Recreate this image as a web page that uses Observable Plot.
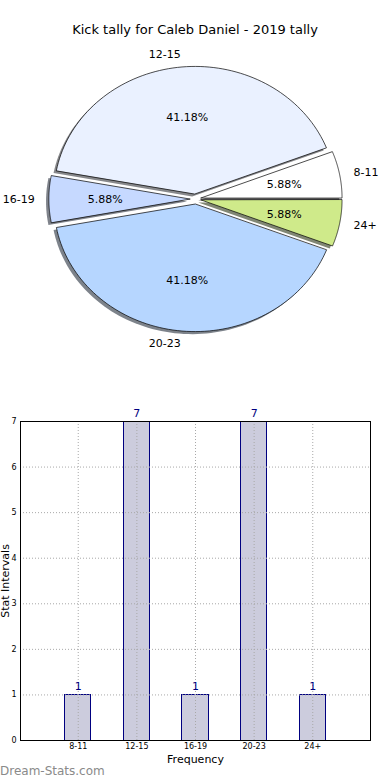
<!DOCTYPE html>
<html>
<head>
<meta charset="utf-8">
<script src="https://cdn.jsdelivr.net/npm/d3@7"></script>
<script src="https://cdn.jsdelivr.net/npm/@observablehq/plot@0.6"></script>
<style>
  html, body { margin: 0; padding: 0; background: #fff; }
  #root { position: relative; width: 390px; height: 780px; overflow: hidden; font-family: "DejaVu Sans", sans-serif; }
  #title { position: absolute; left: 0; top: 21px; width: 390px; text-align: center; font-size: 13px; line-height: 18px; color: #000; }
  #pie { position: absolute; left: 0; top: 0; }
  #bar { position: absolute; left: 0; top: 400px; }
  #wm { position: absolute; left: 0; top: 763px; font-size: 12px; color: #8a8a8a; line-height: 16px; }
</style>
</head>
<body>
<div id="root">
  <div id="pie"></div>
  <div id="title">Kick tally for Caleb Daniel - 2019 tally</div>
  <div id="bar"></div>
  <div id="wm">Dream-Stats.com</div>
</div>
<script>
// ---- data ----
const pieLabels = ["8-11", "12-15", "16-19", "20-23", "24+"];
const pieValues = [1, 7, 1, 7, 1];
const pieColors = ["#ffffff", "#eaf1ff", "#c6d9ff", "#b6d6ff", "#cfea8a"];

const barLabels = ["8-11", "12-15", "16-19", "20-23", "24+"];
const barValues = [1, 7, 1, 7, 1];
const yTicks = [0, 1, 2, 3, 4, 5, 6, 7];

// ---- pie ----
const explode = 0.04;
const total = d3.sum(pieValues);
const arcs = d3.pie().sort(null).startAngle(Math.PI / 2).endAngle(Math.PI / 2 - 2 * Math.PI)(pieValues);

const slices = arcs.map((a, i) => {
  const mid = (a.startAngle + a.endAngle) / 2;
  const ox = explode * Math.sin(mid), oy = explode * Math.cos(mid);
  const pts = [{x: ox, y: oy}];
  const n = 80;
  for (let k = 0; k <= n; k++) {
    const t = a.startAngle + (a.endAngle - a.startAngle) * k / n;
    pts.push({x: ox + Math.sin(t), y: oy + Math.cos(t)});
  }
  const c = d3.rgb(pieColors[i]);
  const shadowColor = d3.rgb(c.r * 0.3, c.g * 0.3, c.b * 0.3).formatHex();
  return {
    label: pieLabels[i],
    value: pieValues[i],
    color: pieColors[i],
    shadowColor,
    pts,
    shadow: pts.map(p => ({x: p.x - 0.02, y: p.y - 0.02})),
    lx: ox + 1.1 * Math.sin(mid), ly: oy + 1.1 * Math.cos(mid),
    px: ox + 0.6 * Math.sin(mid), py: oy + 0.6 * Math.cos(mid),
    pct: d3.format(".2f")(pieValues[i] / total * 100) + "%"
  };
});

const pieMarks = [];
for (const s of slices) {
  pieMarks.push(Plot.line(s.shadow, {x: "x", y: "y", curve: "linear-closed", fill: s.shadowColor, fillOpacity: 0.65, stroke: "none"}));
  pieMarks.push(Plot.line(s.pts, {x: "x", y: "y", curve: "linear-closed", fill: s.color, stroke: "#000", strokeWidth: 0.7}));
}
pieMarks.push(Plot.text(slices.filter(s => s.lx >= 0), {x: "lx", y: "ly", text: "label", textAnchor: "start", fontSize: 11, fill: "#000"}));
pieMarks.push(Plot.text(slices.filter(s => s.lx < 0), {x: "lx", y: "ly", text: "label", textAnchor: "end", fontSize: 11, fill: "#000"}));
pieMarks.push(Plot.text(slices, {x: "px", y: "py", text: "pct", fontSize: 11, fill: "#000"}));

const pie = Plot.plot({
  width: 390,
  height: 390,
  marginLeft: 54,
  marginRight: 54,
  marginTop: 71,
  marginBottom: 64,
  x: {domain: [-1, 1], axis: null},
  y: {domain: [-1, 1], axis: null},
  style: {fontFamily: "DejaVu Sans, sans-serif", background: "transparent", overflow: "visible"},
  marks: pieMarks
});
document.getElementById("pie").appendChild(pie);

// ---- bar ----
const barData = barLabels.map((l, i) => ({label: l, value: barValues[i]}));

const bar = Plot.plot({
  width: 390,
  height: 380,
  marginLeft: 20,
  marginRight: 20,
  marginTop: 21,
  marginBottom: 40,
  x: {type: "band", domain: barLabels, paddingInner: 0.55, paddingOuter: 0.76, round: false, tickSize: 0, tickPadding: 3, label: null},
  y: {domain: [0, 7], ticks: yTicks, tickSize: 0, tickPadding: 4, label: null, tickFormat: d3.format("d")},
  style: {fontFamily: "DejaVu Sans, sans-serif", fontSize: "8px", background: "transparent", overflow: "visible", color: "#000"},
  marks: [
    Plot.barY(barData, {x: "label", y: "value", fill: "#ccccdd", stroke: "#000080", strokeWidth: 1, shapeRendering: "crispEdges"}),
    Plot.ruleY(yTicks, {stroke: "#a8a8a8", strokeDasharray: "1,2", strokeWidth: 1}),
    Plot.ruleX(barLabels, {x: d => d, stroke: "#a8a8a8", strokeDasharray: "1,2", strokeWidth: 1}),
    Plot.frame({stroke: "#000", strokeWidth: 1, shapeRendering: "crispEdges"}),
    Plot.text(barData, {x: "label", y: "value", text: d => String(d.value), dy: -5, lineAnchor: "bottom", fontSize: 11, fill: "#000080"}),
    Plot.text(["Frequency"], {frameAnchor: "bottom", text: d => d, dy: 22, fontSize: 11, fill: "#000"}),
    Plot.text(["Stat Intervals"], {frameAnchor: "left", text: d => d, textAnchor: "middle", rotate: -90, dx: -15, fontSize: 11, fill: "#000"})
  ]
});
document.getElementById("bar").appendChild(bar);
</script>
</body>
</html>
